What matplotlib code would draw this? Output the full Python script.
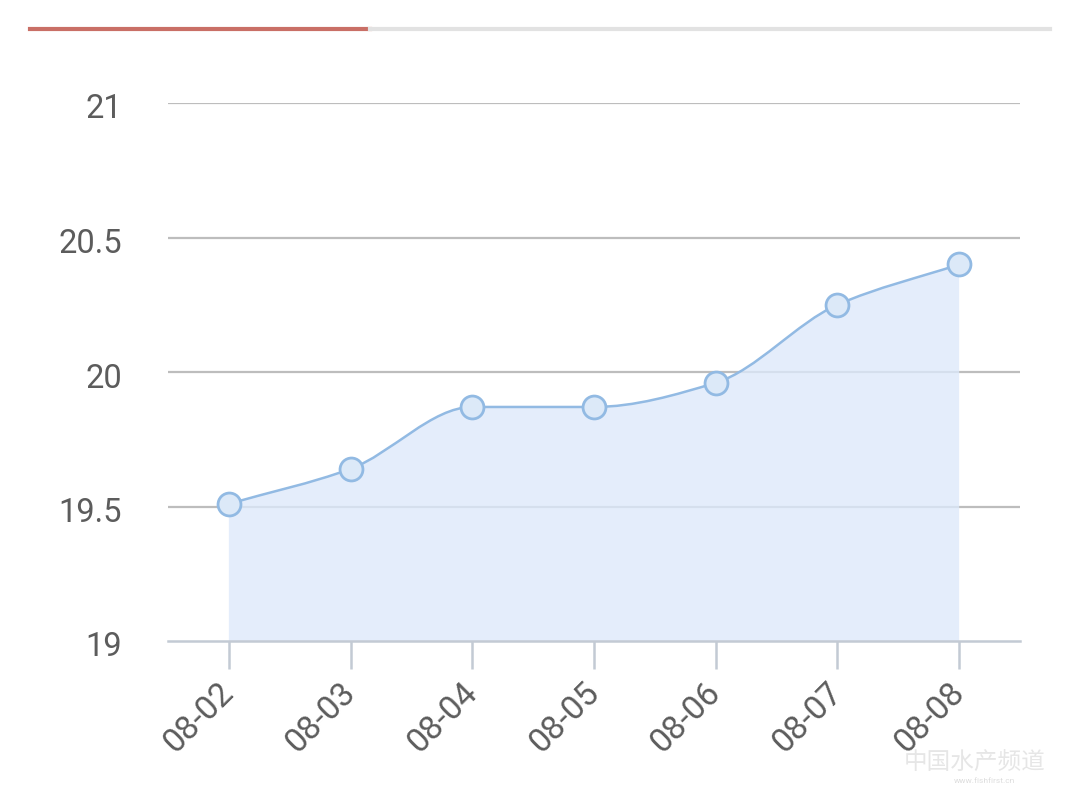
import matplotlib
matplotlib.use("Agg")
import matplotlib.pyplot as plt
import matplotlib.transforms as mtransforms
import numpy as np
from matplotlib.path import Path
from matplotlib.patches import PathPatch
from matplotlib.lines import Line2D

plt.rcParams['font.family'] = ['Roboto', 'Noto Sans CJK SC', 'DejaVu Sans']

dates = ['08-02', '08-03', '08-04', '08-05', '08-06', '08-07', '08-08']
prices = [19.51, 19.64, 19.87, 19.87, 19.96, 20.25, 20.40]
y_ticks = [19, 19.5, 20, 20.5, 21]
y_labels = ['19', '19.5', '20', '20.5', '21']

LINE = '#92bae3'
FILL = '#dde9fb'
MARK = '#dce9f8'


def smooth_path(x, y, close_to=None):
    # monotone-style tangents, then cubic bezier segments
    x = np.asarray(x, float)
    y = np.asarray(y, float)
    d = np.diff(y) / np.diff(x)
    m = np.zeros_like(y)
    m[0], m[-1] = d[0], d[-1]
    for i in range(1, len(y) - 1):
        if d[i - 1] * d[i] > 0:
            m[i] = 2 / (1 / d[i - 1] + 1 / d[i])
    verts = [(x[0], y[0])]
    codes = [Path.MOVETO]
    for i in range(len(x) - 1):
        h = (x[i + 1] - x[i]) / 3
        verts += [(x[i] + h, y[i] + m[i] * h),
                  (x[i + 1] - h, y[i + 1] - m[i + 1] * h),
                  (x[i + 1], y[i + 1])]
        codes += [Path.CURVE4] * 3
    if close_to is not None:
        verts += [(x[-1], close_to), (x[0], close_to), (x[0], y[0])]
        codes += [Path.LINETO, Path.LINETO, Path.CLOSEPOLY]
    return Path(verts, codes)


fig = plt.figure(figsize=(10.8, 7.9), dpi=100)
ax = fig.add_axes([168 / 1080, 1 - 641 / 790, 852 / 1080, 538 / 790])

xs = np.arange(len(dates))
for yv in y_ticks[1:]:
    ax.axhline(yv, color='#bdbdbd', lw=1.6, zorder=1)

ax.add_patch(PathPatch(smooth_path(xs, prices, close_to=19), facecolor=FILL,
                       alpha=0.78, edgecolor='none', zorder=2))
ax.add_patch(PathPatch(smooth_path(xs, prices), facecolor='none',
                       edgecolor=LINE, lw=1.8, zorder=3))
ax.plot(xs, prices, ls='none', marker='o', ms=16.5, mfc=MARK, mec=LINE,
        mew=2, zorder=4)

ax.set_xlim(-0.5, len(dates) - 0.5)
ax.set_ylim(19, 21)
ax.set_yticks(y_ticks)
ax.set_yticklabels(y_labels)
ax.set_xticks(xs)
ax.set_xticklabels(dates, rotation=45, ha='right', va='center',
                   rotation_mode='anchor')

for s in ['top', 'right', 'left']:
    ax.spines[s].set_visible(False)
ax.spines['bottom'].set_color('#c3cad4')
ax.spines['bottom'].set_linewidth(1.8)
ax.spines['bottom'].set_zorder(5)

ax.tick_params(axis='y', length=0, pad=33, labelsize=23.5, labelcolor='#5c5c5c')
ax.tick_params(axis='x', length=20, width=1.8, color='#c3cad4', pad=14,
               labelsize=24, labelcolor='#5c5c5c')

# labels sit a little below their grid lines
shift = mtransforms.ScaledTranslation(0, -3 / 100, fig.dpi_scale_trans)
for lab in ax.get_yticklabels():
    lab.set_transform(lab.get_transform() + shift)

# decorative header bar
fig.add_artist(Line2D([30 / 1080, 370 / 1080], [1 - 29 / 790] * 2,
                      color='#c96f66', lw=3))
fig.add_artist(Line2D([370 / 1080, 1050 / 1080], [1 - 29 / 790] * 2,
                      color='#e2e2e2', lw=3))

# watermark
fig.text(975 / 1080, 1 - 763 / 790, '中国水产频道', ha='center', va='center',
         fontsize=17, color='#e6e6e6', family=['Noto Sans CJK SC', 'DejaVu Sans'])
fig.text(985 / 1080, 1 - 781 / 790, 'www.fishfirst.cn', ha='center', va='center',
         fontsize=6, color='#dddddd')

fig.savefig('out.png', dpi=100)
